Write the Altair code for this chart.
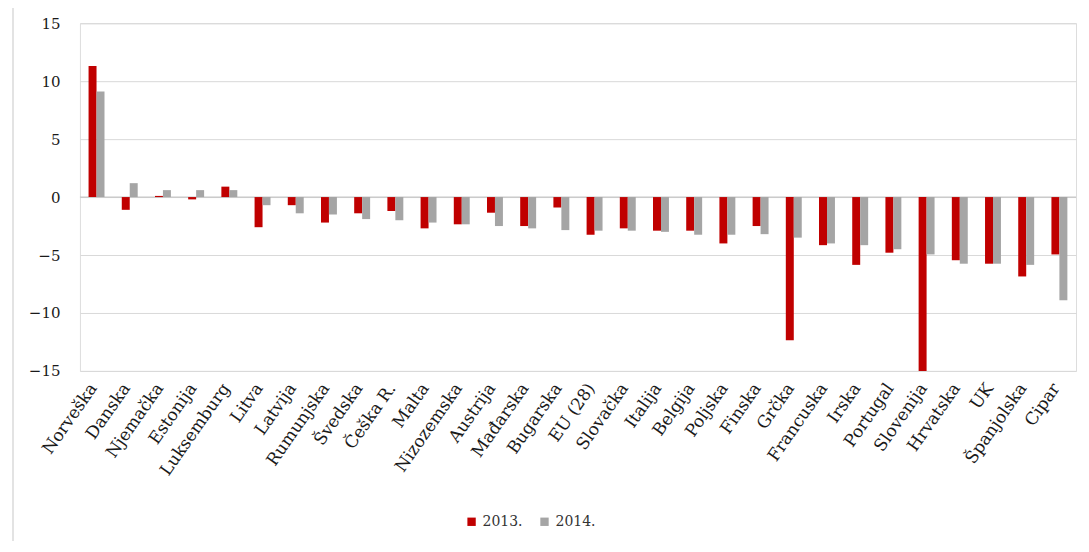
import altair as alt
import pandas as pd

countries = ["Norveška", "Danska", "Njemačka", "Estonija", "Luksemburg", "Litva", "Latvija",
             "Rumunjska", "Švedska", "Češka R.", "Malta", "Nizozemska", "Austrija", "Mađarska",
             "Bugarska", "EU (28)", "Slovačka", "Italija", "Belgija", "Poljska", "Finska", "Grčka",
             "Francuska", "Irska", "Portugal", "Slovenija", "Hrvatska", "UK", "Španjolska", "Cipar"]
v2013 = [11.3, -1.1, 0.1, -0.2, 0.9, -2.6, -0.7, -2.2, -1.4, -1.2, -2.7, -2.35, -1.35, -2.5,
         -0.9, -3.25, -2.7, -2.9, -2.9, -4.0, -2.5, -12.35, -4.15, -5.85, -4.8, -15.0, -5.45,
         -5.75, -6.85, -4.95]
v2014 = [9.1, 1.2, 0.6, 0.6, 0.6, -0.7, -1.4, -1.5, -1.9, -2.0, -2.2, -2.35, -2.5, -2.7,
         -2.85, -2.9, -2.9, -3.0, -3.25, -3.25, -3.2, -3.5, -4.0, -4.15, -4.5, -4.95, -5.75,
         -5.75, -5.85, -8.9]
series = ["2013.", "2014."]
colors = ["#C00000", "#A5A5A5"]

rows = []
for c, a, b in zip(countries, v2013, v2014):
    rows.append({"country": c, "year": series[0], "value": a})
    rows.append({"country": c, "year": series[1], "value": b})
df = pd.DataFrame(rows)

FONT = "DejaVu Serif"

bars = alt.Chart(df).mark_bar().encode(
    x=alt.X("country:N", sort=countries, title=None,
            scale=alt.Scale(paddingInner=0.52, paddingOuter=0.26),
            axis=alt.Axis(labelAngle=305, labelAlign="right", labelBaseline="middle",
                          labelPadding=14, labelOffset=-3, ticks=False, domain=False, grid=False,
                          labelFont=FONT, labelFontSize=17, labelColor="#1a1a1a")),
    xOffset=alt.XOffset("year:N", sort=series),
    y=alt.Y("value:Q", title=None,
            scale=alt.Scale(domain=[-15, 15], nice=False),
            axis=alt.Axis(values=[-15, -10, -5, 0, 5, 10, 15], ticks=False, domain=False,
                          labelPadding=20, labelFont=FONT, labelFontSize=15,
                          labelColor="#1a1a1a", gridColor="#D9D9D9")),
    color=alt.Color("year:N", sort=series,
                    scale=alt.Scale(domain=series, range=colors),
                    legend=alt.Legend(title=None, orient="none", legendX=385, legendY=492,
                                      direction="horizontal", symbolType="square",
                                      symbolSize=70, labelFont=FONT, labelFontSize=14,
                                      labelColor="#333333", columnPadding=14)),
)

zero = alt.Chart(pd.DataFrame({"z": [0]})).mark_rule(color="#BFBFBF", strokeWidth=1).encode(
    y="z:Q")

frame_left = alt.Chart(pd.DataFrame({"a": [0]})).mark_rule(color="#E3E3E3", strokeWidth=2).encode(
    x=alt.value(-67), y=alt.value(-23), y2=alt.value(525))
frame_bottom = alt.Chart(pd.DataFrame({"a": [0]})).mark_rule(color="#EBEBEB", strokeWidth=1).encode(
    x=alt.value(-67), x2=alt.value(1005), y=alt.value(525))

chart = alt.layer(frame_left, frame_bottom, zero, bars).properties(
    width=997, height=348,
    autosize=alt.AutoSizeParams(type="none"),
    padding={"left": 72, "top": 15, "right": 5, "bottom": 170},
).configure_view(stroke="#D9D9D9").configure(background="white")

chart.save("out.html", embed_options={"renderer": "svg", "actions": False})
